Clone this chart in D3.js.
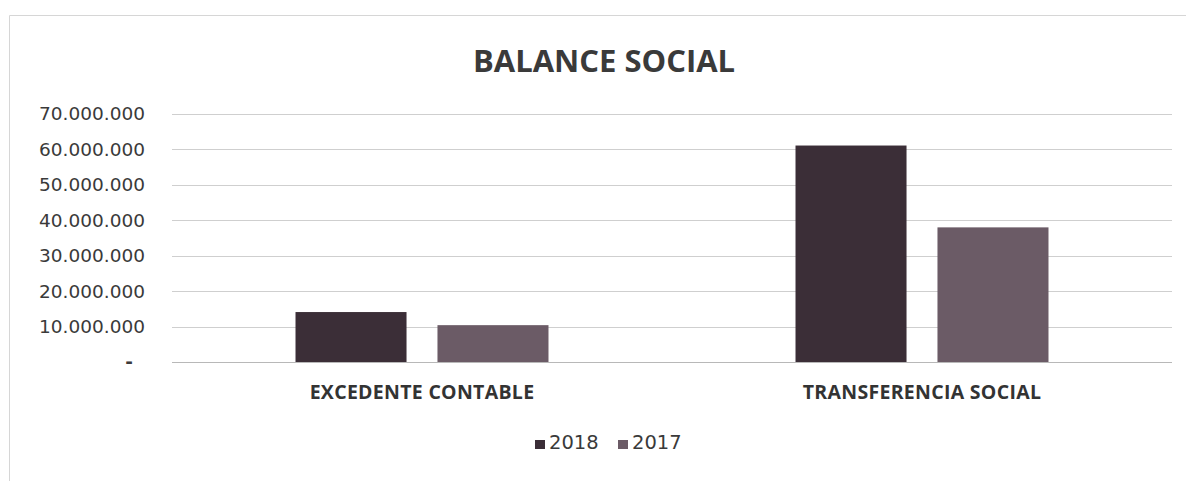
<!DOCTYPE html>
<html><head><meta charset="utf-8">
<script src="https://cdn.jsdelivr.net/npm/d3@7"></script>
<style>body{margin:0;background:#fff;}svg{display:block;}</style>
</head><body>
<svg id="c" width="1186" height="481"></svg>
<script>
const categories = ["EXCEDENTE CONTABLE", "TRANSFERENCIA SOCIAL"];
const seriesNames = ["2018", "2017"];
const values2018 = [14100000, 61100000];
const values2017 = [10400000, 38000000];
const yTicks = [0, 10000000, 20000000, 30000000, 40000000, 50000000, 60000000, 70000000];
const colors = ["#3b2e37", "#6b5b66"];

const svg = d3.select("#c");
const W = 1186, H = 481;
const m = {left: 172, right: 14, top: 114, bottom: 119};
const x0 = d3.scaleBand().domain(categories).range([m.left, W - m.right]).paddingInner(0).paddingOuter(0);
const x1 = d3.scaleBand().domain(seriesNames).range([0, x0.bandwidth()]).paddingInner(0.218).paddingOuter(0.87);
const y = d3.scaleLinear().domain([0, 70000000]).range([H - m.bottom, m.top]);

// frame (left and top edges)
svg.append("path").attr("d", `M9.5,${H}V15.5H${W}`).attr("fill", "none").attr("stroke", "#d6d6d6");

const fmt = v => v === 0 ? "-" : d3.format(",")(v).replace(/,/g, ".");

// grid
svg.append("g").selectAll("line").data(yTicks).join("line")
  .attr("x1", m.left).attr("x2", W - m.right)
  .attr("y1", d => Math.round(y(d)) + 0.5).attr("y2", d => Math.round(y(d)) + 0.5)
  .attr("stroke", d => d === 0 ? "#b8b8b8" : "#cfcfcf").attr("stroke-width", 1);

// y axis labels
const yAxis = d3.axisLeft(y).tickValues(yTicks).tickFormat(fmt).tickSize(0).tickPadding(0);
const ga = svg.append("g").attr("transform", `translate(${m.left - 27},0)`).call(yAxis);
ga.select(".domain").remove();
ga.selectAll("text").attr("font-family", "'DejaVu Sans', sans-serif").attr("font-size", 18.5).attr("fill", "#3a3a3a")
  .attr("dx", d => d === 0 ? -12 : 0).attr("font-weight", d => d === 0 ? "bold" : "normal");

// bars
const data = categories.map((c, i) => ({c, vals: [values2018[i], values2017[i]]}));
const g = svg.append("g");
data.forEach(d => {
  g.selectAll(null).data(d.vals).join("rect")
    .attr("x", (v, j) => x0(d.c) + x1(seriesNames[j]))
    .attr("width", x1.bandwidth())
    .attr("y", v => y(v))
    .attr("height", v => y(0) - y(v))
    .attr("fill", (v, j) => colors[j]);
});

// category labels
svg.append("g").selectAll("text").data(categories).join("text")
  .attr("x", d => x0(d) + x0.bandwidth() / 2)
  .attr("y", H - m.bottom + 37)
  .attr("text-anchor", "middle")
  .attr("font-family", "'Open Sans', sans-serif").attr("font-weight", "bold")
  .attr("font-size", 19.5).attr("letter-spacing", 0.3).attr("fill", "#333").text(d => d);

// title
svg.append("text").attr("x", 604).attr("y", 72).attr("text-anchor", "middle")
  .attr("font-family", "'Open Sans', sans-serif").attr("font-weight", "bold")
  .attr("font-size", 31).attr("fill", "#3a3a3a").text("BALANCE SOCIAL");

// legend
const lg = svg.append("g").attr("transform", "translate(535,449)");
const items = [{n: "2018", x: 0}, {n: "2017", x: 83}];
items.forEach((it, j) => {
  lg.append("rect").attr("x", it.x).attr("y", -9).attr("width", 10).attr("height", 9).attr("fill", colors[j]);
  lg.append("text").attr("x", it.x + 14).attr("y", 0)
    .attr("font-family", "'DejaVu Sans', sans-serif").attr("font-size", 19.5).attr("fill", "#3a3a3a").text(it.n);
});
</script>
</body></html>
